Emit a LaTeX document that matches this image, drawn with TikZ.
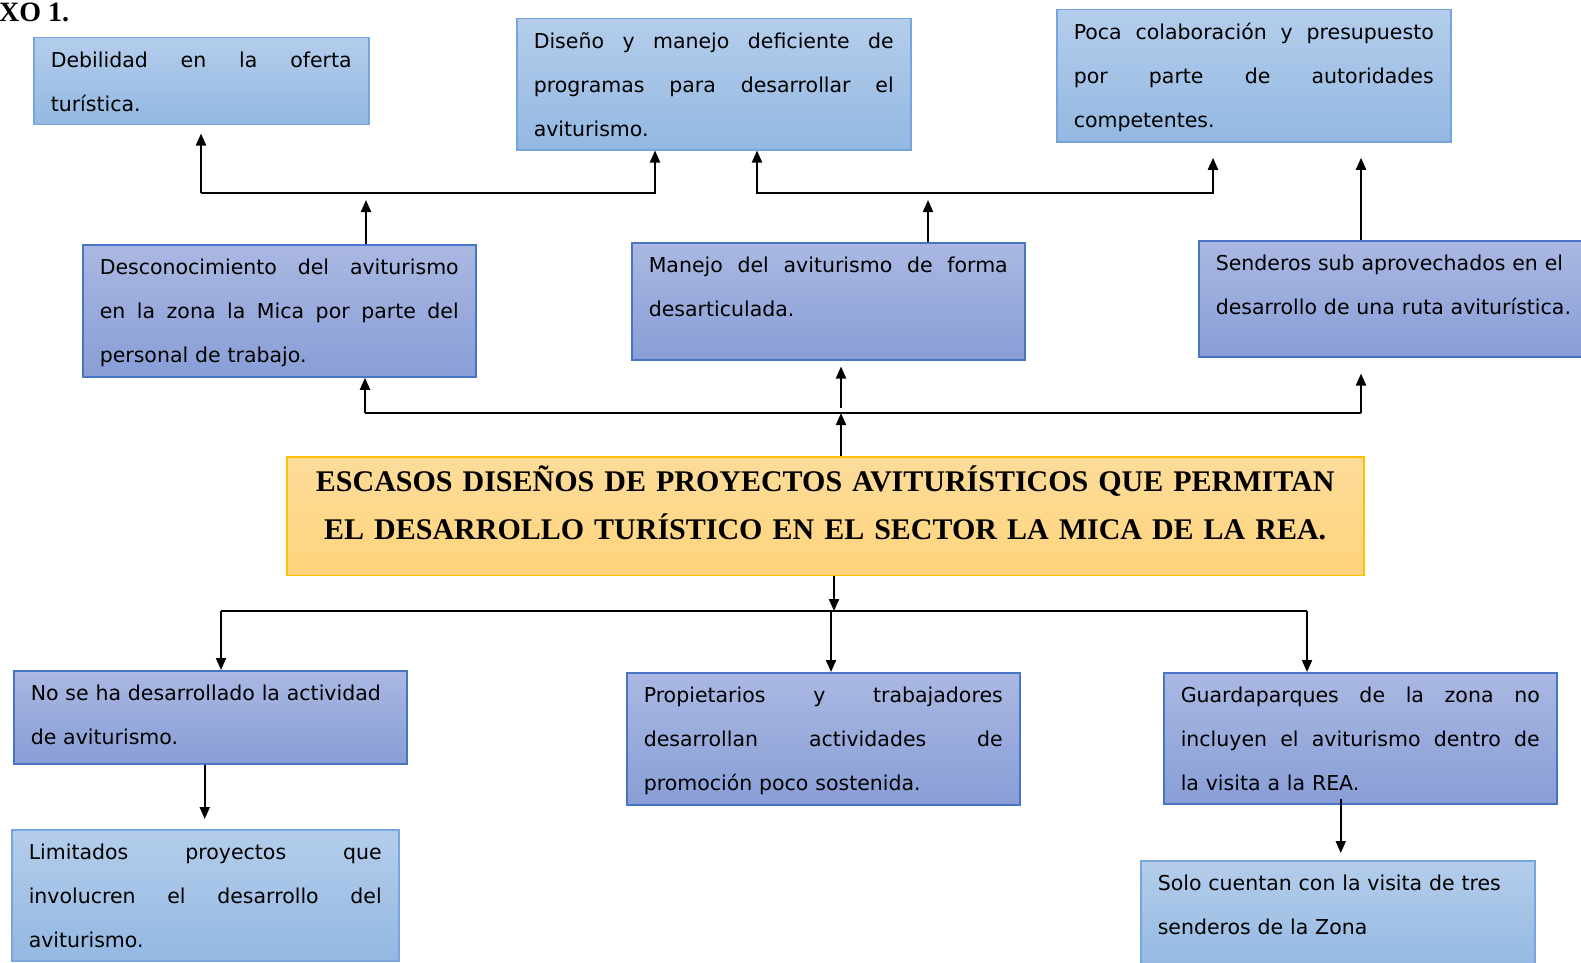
\documentclass[tikz,border=0pt]{standalone}
\usepackage{fontspec}
\usetikzlibrary{arrows.meta}
\newfontfamily\boxfam{DejaVu Sans}
\newfontfamily\corefam{Liberation Serif}
\setlength{\parindent}{0pt}

\definecolor{lightTop}{HTML}{B4CDEB}
\definecolor{lightBot}{HTML}{93B8E2}
\definecolor{lightEdge}{HTML}{78A6DC}
\definecolor{darkTop}{HTML}{AAB8E2}
\definecolor{darkBot}{HTML}{889ED6}
\definecolor{darkEdge}{HTML}{4874C6}
\definecolor{coreTop}{HTML}{FDDC9A}
\definecolor{coreBot}{HTML}{FFD47C}
\definecolor{coreEdge}{HTML}{FFC000}

% one justified line: the words are pushed apart over the whole box
\def\jsplit#1 #2\jend{#1\ifx\relax#2\relax\else\hfill\jsplit#2\jend\fi}
\newcommand{\jline}[1]{\leavevmode\hbox to \boxw{\jsplit#1 \jend}}

\tikzset{
  box/.style={draw, line width=1.5pt, anchor=north west, align=left,
    inner xsep=17pt, inner ysep=10pt,
    font={\boxfam\fontsize{20.5}{44}\selectfont},
    execute at end node={\rule[-3pt]{0pt}{0pt}}},
  tw/.style={text width=#1, execute at begin node={\def\boxw{#1}\rule{0pt}{20pt}}},
  lightbox/.style={box, draw=lightEdge, top color=lightTop, bottom color=lightBot},
  darkbox/.style={box, draw=darkEdge, top color=darkTop, bottom color=darkBot},
  corebox/.style={draw=coreEdge, line width=1.5pt, top color=coreTop, bottom color=coreBot,
    anchor=north west, align=center, text width=1040pt, inner xsep=18.5pt, inner ysep=9pt,
    font={\corefam\bfseries\fontsize{30}{48}\selectfont}},
  arr/.style={-{Triangle[length=12pt,width=10pt]}, line width=2pt},
  bus/.style={line width=2pt}
}

\begin{document}
\begin{tikzpicture}[x=1pt,y=-1pt]
    \useasboundingbox (0,0) rectangle (1581,963);

    % ==== Title fragment ====
    \node[anchor=base west, inner sep=0pt, font={\corefam\bfseries\fontsize{28}{30}\selectfont}] (annex) at (-1,22) {XO 1.};

    % ==== Effects (top row) ====
    \node[lightbox, tw=301pt] (deb) at (33,37)
      {\jline{Debilidad en la oferta}\\turística.};
    \node[lightbox, tw=360pt] (dis) at (516,18)
      {\jline{Diseño y manejo deficiente de}\\\jline{programas para desarrollar el}\\aviturismo.};
    \node[lightbox, tw=360pt] (poca) at (1056,9)
      {\jline{Poca colaboración y presupuesto}\\\jline{por parte de autoridades}\\competentes.};

    % ==== Effects (second row) ====
    \node[darkbox, tw=359pt] (desc) at (82,244)
      {\jline{Desconocimiento del aviturismo}\\\jline{en la zona la Mica por parte del}\\personal de trabajo.};
    \node[darkbox, tw=359pt] (man) at (631,242)
      {\jline{Manejo del aviturismo de forma}\\desarticulada.\rule[-33pt]{0pt}{0pt}};
    \node[darkbox, tw=366pt] (send) at (1198,240)
      {Senderos sub aprovechados en el\\desarrollo de una ruta aviturística.\rule[-32pt]{0pt}{0pt}};

    % ==== Central problem ====
    \node[corebox] (core) at (286,456)
      {\rule{0pt}{24pt}ESCASOS DISEÑOS DE PROYECTOS AVITURÍSTICOS QUE PERMITAN\\
       EL DESARROLLO TURÍSTICO EN EL SECTOR LA MICA DE LA REA.\rule[-27pt]{0pt}{0pt}};

    % ==== Causes ====
    \node[darkbox, tw=359pt] (nose) at (13,670)
      {No se ha desarrollado la actividad\\de aviturismo.\rule[-9pt]{0pt}{0pt}};
    \node[darkbox, tw=359pt] (prop) at (626,672)
      {\jline{Propietarios y trabajadores}\\\jline{desarrollan actividades de}\\promoción poco sostenida.};
    \node[darkbox, tw=359pt] (guar) at (1163,672)
      {\jline{Guardaparques de la zona no}\\\jline{incluyen el aviturismo dentro de}\\la visita a la REA.};
    \node[lightbox, tw=353pt] (lim) at (11,829)
      {\jline{Limitados proyectos que}\\\jline{involucren el desarrollo del}\\aviturismo.};
    \node[lightbox, tw=360pt] (solo) at (1140,860)
      {Solo cuentan con la visita de tres\\senderos de la Zona\rule[-27pt]{0pt}{0pt}};

    % ==== Junctions ====
    \coordinate (jDeb) at (201,193);
    \coordinate (jDesc) at (366,193);
    \coordinate (jDisL) at (655,193);
    \coordinate (jDisR) at (757,193);
    \coordinate (jMan) at (928,193);
    \coordinate (jPoca) at (1213,193);
    \coordinate (mL) at (365,413);
    \coordinate (mC) at (841,413);
    \coordinate (mR) at (1361,413);
    \coordinate (bL) at (221,611);
    \coordinate (bM) at (831,611);
    \coordinate (bC) at (834,611);
    \coordinate (bR) at (1307,611);

    % top left branch
    \draw[arr, shorten >=7pt] (desc.north -| jDesc) -- (jDesc);
    \draw[arr] (jDeb) -- (jDisL) -- (jDisL |- dis.south);
    \draw[arr, shorten >=8pt] (jDeb) -- (jDeb |- deb.south);

    % top right branch
    \draw[arr, shorten >=7pt] (man.north -| jMan) -- (jMan);
    \draw[arr] (jPoca) -- (jDisR) -- (jDisR |- dis.south);
    \draw[arr, shorten >=15pt] (jDisR) -- (jPoca) -- (jPoca |- poca.south);
    \draw[arr, shorten >=15pt] (send.north -| mR) -- (mR |- poca.south);

    % from the problem up to the effects
    \draw[bus] (mL) -- (mR);
    \draw[arr] (core.north -| mC) -- (mC);
    \draw[arr] (mL) -- (mL |- desc.south);
    \draw[arr, shorten >=6pt] ([yshift=5pt]mC) -- (mC |- man.south);
    \draw[arr, shorten >=16pt] (mR) -- (mR |- send.south);

    % from the problem down to the causes
    \draw[arr] (core.south -| bC) -- (bC);
    \draw[bus] (bL) -- (bR);
    \draw[arr] (bL) -- (bL |- nose.north);
    \draw[arr] (bM) -- (bM |- prop.north);
    \draw[arr] (bR) -- (bR |- guar.north);
    \draw[arr, shorten >=10pt] ([xshift=-5.5pt]nose.south) -- ([xshift=-5.5pt]nose.south |- lim.north);
    \draw[arr, shorten >=7pt] ([xshift=-19.5pt,yshift=6pt]guar.south) -- ([xshift=-19.5pt]guar.south |- solo.north);
\end{tikzpicture}
\end{document}
